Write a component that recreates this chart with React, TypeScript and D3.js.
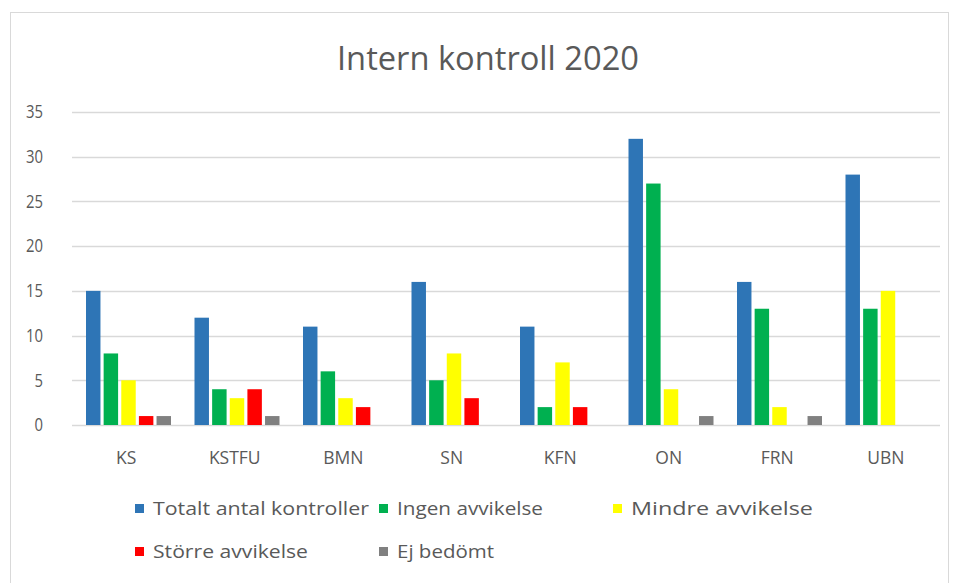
import React from 'react';
import * as d3 from 'd3';

const title = 'Intern kontroll 2020';
const categories = ['KS', 'KSTFU', 'BMN', 'SN', 'KFN', 'ON', 'FRN', 'UBN'];
const seriesNames = ['Totalt antal kontroller', 'Ingen avvikelse', 'Mindre avvikelse', 'Större avvikelse', 'Ej bedömt'];
const seriesColors = ['#2E75B6', '#00B050', '#FFFF00', '#FF0000', '#808080'];

const totalt = [15, 12, 11, 16, 11, 32, 16, 28];
const ingen = [8, 4, 6, 5, 2, 27, 13, 13];
const mindre = [5, 3, 3, 8, 7, 4, 2, 15];
const storre = [1, 4, 2, 3, 2, 0, 0, 0];
const ejBedomt = [1, 1, 0, 0, 0, 1, 1, 0];
const seriesValues = [totalt, ingen, mindre, storre, ejBedomt];

const yTicks = [0, 5, 10, 15, 20, 25, 30, 35];

const W = 958;
const H = 583;
const font = '"Open Sans", "DejaVu Sans", sans-serif';
const textColor = '#595959';

export default function App() {
	const x0 = d3.scaleBand<string>().domain(categories).range([72, 940]);
	const x1 = d3.scaleBand<string>().domain(seriesNames).range([14, 99]).paddingInner(0.18);
	const y = d3.scaleLinear().domain([0, 35]).range([425, 112]);

	// legend layout: 3 columns, 2 rows
	const legendCols = [135, 379, 613];
	const legendRows = [509, 552];
	const legendWidths = [216, 146, 182, 155, 97];

	return (
		<svg width={W} height={H} style={{ position: 'absolute', left: 0, top: 0 }} fontFamily={font}>
			<rect x={0} y={0} width={W} height={H} fill="#fff" />
			<rect x={10.5} y={12.5} width={938} height={H} fill="#fff" stroke="#d9d9d9" />
			<text x={488} y={70} textAnchor="middle" fontSize={33} fill={textColor}
				textLength={302} lengthAdjust="spacingAndGlyphs">{title}</text>

			<g className="grid">
				{yTicks.map(t => (
					<g key={t}>
						<line x1={72} x2={940} y1={Math.round(y(t)) + 0.5} y2={Math.round(y(t)) + 0.5}
							stroke="#d9d9d9" strokeWidth={1.5} />
						<text x={43} y={y(t)} dy="0.35em" textAnchor="end" fontSize={18} fill={textColor}
							textLength={String(t).length * 8.5} lengthAdjust="spacingAndGlyphs">{t}</text>
					</g>
				))}
			</g>

			<g className="bars">
				{categories.map((c, i) => (
					<g key={c} transform={`translate(${x0(c)},0)`}>
						{seriesNames.map((s, j) => {
							const v = seriesValues[j][i];
							if (!v) return null;
							return (
								<rect key={s} x={x1(s)} y={y(v)} width={x1.bandwidth()}
									height={y(0) - y(v)} fill={seriesColors[j]} />
							);
						})}
						<text x={x0.bandwidth() / 2} y={458} dy="0.35em" textAnchor="middle"
							fontSize={17.5} fill={textColor}>{c}</text>
					</g>
				))}
			</g>

			<g className="legend">
				{seriesNames.map((s, j) => {
					const lx = legendCols[j % 3];
					const ly = legendRows[Math.floor(j / 3)];
					return (
						<g key={s} transform={`translate(${lx},${ly})`}>
							<rect x={0} y={-5} width={9} height={9} fill={seriesColors[j]} />
							<text x={18} y={0} dy="0.35em" fontSize={18.5} fill={textColor}
								textLength={legendWidths[j]} lengthAdjust="spacingAndGlyphs">{s}</text>
						</g>
					);
				})}
			</g>
		</svg>
	);
}
